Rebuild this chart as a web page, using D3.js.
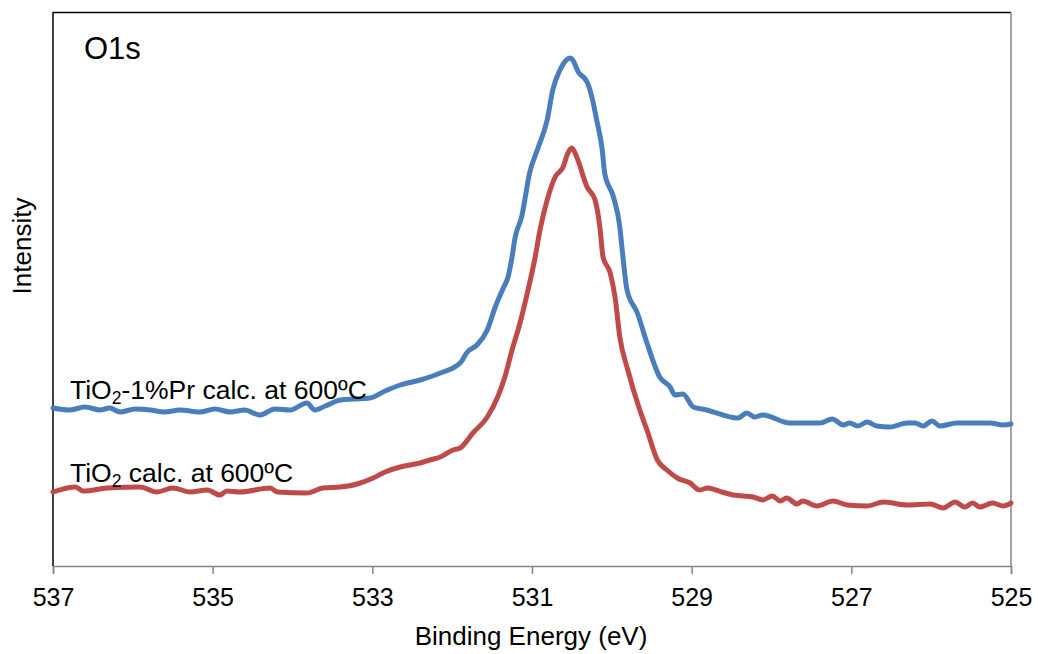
<!DOCTYPE html>
<html>
<head>
<meta charset="utf-8">
<script src="https://cdn.jsdelivr.net/npm/d3@7"></script>
<style>
  html, body { margin: 0; padding: 0; background: #fff; }
  svg { display: block; font-family: "Liberation Sans", Arial, sans-serif; }
</style>
</head>
<body>
<svg id="chart" width="1038" height="654"></svg>
<script>
// ---- Data (binding energy eV, intensity arbitrary units) ----
const xTicks = [537, 535, 533, 531, 529, 527, 525];
const xTickLabels = ["537", "535", "533", "531", "529", "527", "525"];

const energyPr = [537.00,536.79,536.60,536.41,536.29,536.16,535.97,535.78,535.60,535.41,535.16,534.97,534.78,534.60,534.41,534.22,534.03,533.82,533.72,533.59,533.40,533.22,533.03,532.84,532.65,532.40,532.15,531.90,531.81,531.69,531.56,531.46,531.36,531.30,531.25,531.21,531.13,531.03,530.92,530.81,530.74,530.65,530.52,530.49,530.42,530.31,530.25,530.19,530.12,530.09,529.98,529.90,529.87,529.81,529.68,529.56,529.40,529.27,529.21,529.11,528.98,528.81,528.61,528.42,528.31,528.21,528.11,527.77,527.39,527.24,527.10,527.02,526.92,526.80,526.68,526.52,526.30,526.20,526.10,525.99,525.89,525.68,525.26,525.10,525.00];
const intensityPr = [158,156,159,156,158,154,157,156,154,156,154,157,154,156,151,157,156,163,156,160,166,167,168,175,181,186,193,203,214,221,236,259,278,289,309,329,349,393,419,446,476,496,508,506,494,484,469,446,416,393,369,339,316,276,253,223,189,179,171,172,159,156,151,148,153,149,151,143,143,147,141,143,140,144,140,139,143,143,140,145,140,143,143,141,142];

const energyTi = [537.00,536.72,536.62,536.32,535.91,535.70,535.50,535.28,535.07,534.91,534.82,534.66,534.28,534.19,533.82,533.62,533.40,533.19,532.99,532.84,532.65,532.53,532.40,532.28,532.15,531.99,531.90,531.74,531.56,531.43,531.34,531.25,531.15,531.05,530.96,530.90,530.81,530.71,530.61,530.55,530.50,530.44,530.31,530.21,530.15,530.11,530.02,529.96,529.90,529.80,529.65,529.56,529.43,529.31,529.18,529.02,528.90,528.80,528.62,528.48,528.23,528.11,527.99,527.89,527.81,527.68,527.61,527.43,527.23,527.05,526.80,526.60,526.30,526.01,525.85,525.70,525.58,525.48,525.39,525.23,525.10,525.00];
const intensityTi = [74,79,75,78,79,74,78,74,76,71,75,74,78,74,73,78,79,82,88,94,99,101,103,106,109,116,118,133,149,169,189,216,243,276,309,336,366,389,399,413,418,409,379,366,339,309,293,269,229,196,156,136,106,96,88,83,76,78,74,71,69,66,70,65,68,62,65,60,65,61,60,64,61,62,58,64,59,63,59,63,60,63];

const seriesNames = ["TiO2-1%Pr calc. at 600ºC", "TiO2 calc. at 600ºC"];
const seriesColors = ["#4A7EBB", "#BE4B48"];
const panelLabel = "O1s";
const xTitle = "Binding Energy (eV)";
const yTitle = "Intensity";

(function () {
  // ---- Layout ----
  const svg = d3.select("#chart");
  const pL = 53, pR = 1011, pT = 12, pB = 566;

  const x = d3.scaleLinear().domain([537, 525]).range([pL, pR]);
  const y = d3.scaleLinear().domain([0, 554]).range([pB, pT]);

  // frame: top (black), right (grey)
  svg.append("line").attr("x1", pL).attr("x2", pR).attr("y1", pT + 0.5).attr("y2", pT + 0.5)
    .attr("stroke", "#000").attr("stroke-width", 1.5);
  svg.append("line").attr("x1", pR).attr("x2", pR).attr("y1", pT).attr("y2", pB)
    .attr("stroke", "#868686").attr("stroke-width", 1.5);

  // x axis
  const xAxis = d3.axisBottom(x).tickValues(xTicks).tickFormat((d, i) => xTickLabels[i]).tickSize(8).tickPadding(14);
  const gx = svg.append("g").attr("transform", `translate(0,${pB})`).call(xAxis);
  gx.select(".domain").attr("stroke", "#868686").attr("stroke-width", 1.5);
  gx.selectAll(".tick line").attr("stroke", "#868686").attr("stroke-width", 1.5);
  gx.selectAll(".tick text").attr("fill", "#000").attr("font-size", 25)
    .attr("font-family", "'Liberation Sans', Arial, sans-serif");

  // y axis line (black, no ticks)
  svg.append("line").attr("x1", pL).attr("x2", pL).attr("y1", pT).attr("y2", pB)
    .attr("stroke", "#000").attr("stroke-width", 1.5);

  // lines
  const line = d3.line().x(d => x(d[0])).y(d => y(d[1])).curve(d3.curveMonotoneX);
  const dataPr = energyPr.map((e, i) => [e, intensityPr[i]]);
  const dataTi = energyTi.map((e, i) => [e, intensityTi[i]]);

  svg.append("path").datum(dataTi).attr("d", line).attr("fill", "none")
    .attr("stroke", seriesColors[1]).attr("stroke-width", 5).attr("stroke-linejoin", "round").attr("stroke-linecap", "round");
  svg.append("path").datum(dataPr).attr("d", line).attr("fill", "none")
    .attr("stroke", seriesColors[0]).attr("stroke-width", 5).attr("stroke-linejoin", "round").attr("stroke-linecap", "round");

  // series labels with subscript 2
  function subLabel(text, xPos, yPos) {
    const t = svg.append("text").attr("x", xPos).attr("y", yPos).attr("font-size", 26.5).attr("fill", "#000");
    const idx = text.indexOf("O2");
    t.append("tspan").text(text.slice(0, idx + 1));
    t.append("tspan").attr("font-size", 17.5).attr("dy", 5).text("2");
    t.append("tspan").attr("dy", -5).text(text.slice(idx + 2));
  }
  subLabel(seriesNames[0], 70, 399);
  subLabel(seriesNames[1], 70, 482);

  // panel label
  svg.append("text").attr("x", 84).attr("y", 59).attr("font-size", 31).attr("fill", "#000").text(panelLabel);

  // axis titles
  svg.append("text").attr("x", 531).attr("y", 645).attr("text-anchor", "middle")
    .attr("font-size", 26).attr("fill", "#000").text(xTitle);
  svg.append("text").attr("transform", "translate(31,246) rotate(-90)").attr("text-anchor", "middle")
    .attr("font-size", 26).attr("fill", "#000").text(yTitle);
})();
</script>
</body>
</html>
